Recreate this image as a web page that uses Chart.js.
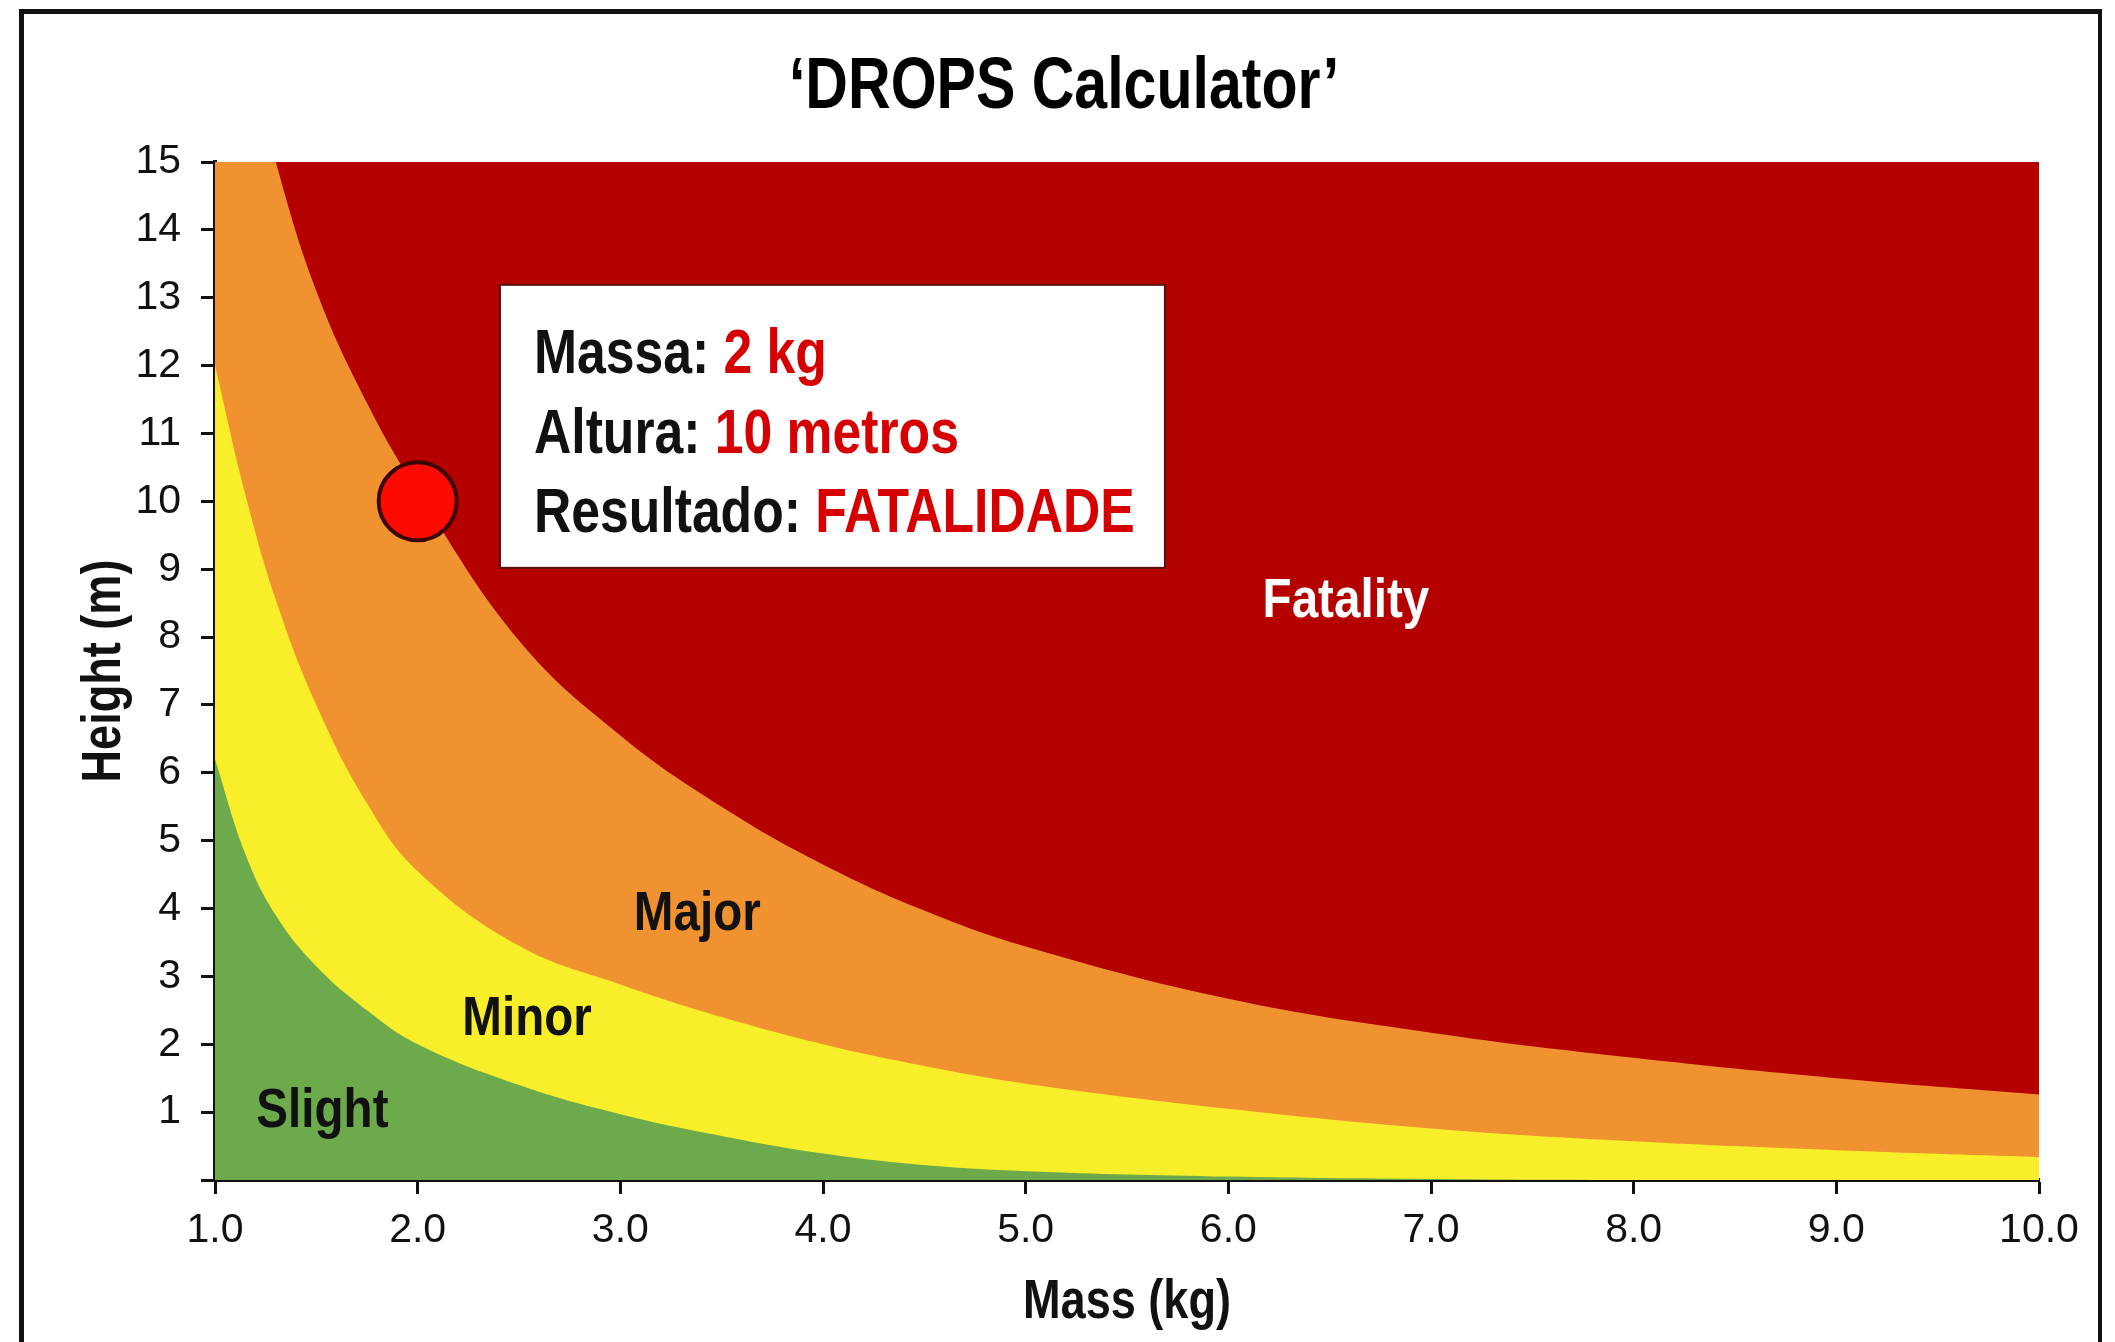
<!DOCTYPE html>
<html>
<head>
<meta charset="utf-8">
<title>DROPS Calculator</title>
<script src="https://cdn.jsdelivr.net/npm/chart.js@4.4.1/dist/chart.umd.min.js"></script>
<style>
  html, body { margin: 0; padding: 0; background: #fff; }
  #wrap { position: relative; width: 2115px; height: 1342px; overflow: hidden; }
  #frame { position: absolute; left: 19px; top: 9px; width: 2074px; height: 1400px;
           border: 4px solid #111; border-top-width: 5px; border-left-width: 5px; }
  #dropsChart { position: absolute; left: 0; top: 0; }
</style>
</head>
<body>
<div id="wrap">
  <div id="frame"></div>
  <canvas id="dropsChart" width="2115" height="1342"></canvas>
</div>
<script>
// mass (kg) at which the limit curves were read
var massKg = [1, 1.15, 1.3, 1.5, 1.75, 2, 2.5, 3, 3.5, 4, 4.5, 5, 6, 7, 8, 9, 10];
// height (m) of each limit: above it the next, worse zone starts
// (first fatality values sit above the top of the plot)
var fatalityLimit = [18.5, 16.8, 15.0, 13.1, 11.45, 10.15, 7.95, 6.55, 5.5, 4.65, 3.97, 3.44, 2.67, 2.17, 1.80, 1.50, 1.26];
var majorLimit = [12.0, 10.1, 8.55, 7.0, 5.55, 4.55, 3.45, 2.88, 2.4, 2.0, 1.68, 1.42, 1.05, 0.76, 0.57, 0.44, 0.34];
var minorLimit = [6.2, 4.8, 3.9, 3.15, 2.5, 2.0, 1.4, 0.97, 0.65, 0.39, 0.22, 0.13, 0.05, 0.015, 0, 0, 0];

var zoneNames = ['Fatality', 'Major', 'Minor', 'Slight'];
var xTickLabels = ['1.0', '2.0', '3.0', '4.0', '5.0', '6.0', '7.0', '8.0', '9.0', '10.0'];
var yTickLabels = ['', '1', '2', '3', '4', '5', '6', '7', '8', '9', '10', '11', '12', '13', '14', '15'];

// the dropped object
var dropMass = [2];
var dropHeight = [10];
var resultLabels = ['Massa:', 'Altura:', 'Resultado:'];
var resultValues = ['2 kg', '10 metros', 'FATALIDADE'];

var chartTitle = '\u2018DROPS Calculator\u2019';
var xTitle = 'Mass (kg)';
var yTitle = 'Height (m)';

var SANS = '"Liberation Sans", Arial, Helvetica, sans-serif';
var RED = '#B40100', ORANGE = '#F0922F', YELLOW = '#F8EE2A', GREEN = '#6CAA4B';

function points(xs, ys) {
    return xs.map(function (x, i) { return { x: x, y: ys[i] }; });
}

// bold text squeezed sideways, to look like a condensed face
function condensed(ctx, text, x, y, size, color, align, squeeze, rotate) {
    ctx.save();
    ctx.translate(x, y);
    if (rotate) ctx.rotate(rotate);
    ctx.scale(squeeze, 1);
    ctx.font = 'bold ' + size + 'px ' + SANS;
    ctx.fillStyle = color;
    ctx.textAlign = align;
    ctx.textBaseline = 'alphabetic';
    ctx.fillText(text, 0, 0);
    var w = ctx.measureText(text).width * squeeze;
    ctx.restore();
    return w;
}

// red background of the plot = Fatality zone
var fatalityBackground = {
    id: 'fatalityBackground',
    beforeDatasetsDraw: function (chart) {
        var a = chart.chartArea, ctx = chart.ctx;
        ctx.save();
        ctx.fillStyle = RED;
        ctx.fillRect(a.left, a.top, a.right - a.left, a.bottom - a.top);
        ctx.restore();
    }
};

// zone names and the result box
var annotations = {
    id: 'annotations',
    afterDatasetsDraw: function (chart) {
        var ctx = chart.ctx, sx = chart.scales.x, sy = chart.scales.y;

        // zone labels (centre x, baseline y in data units)
        var spots = [[6.58, 8.3, '#fff'], [3.38, 3.68, '#111'], [2.54, 2.14, '#111'], [1.53, 0.78, '#111']];
        zoneNames.forEach(function (name, i) {
            condensed(ctx, name, sx.getPixelForValue(spots[i][0]), sy.getPixelForValue(spots[i][1]),
                56, spots[i][2], 'center', 0.85);
        });

        // result box
        var left = sx.getPixelForValue(2.406), right = sx.getPixelForValue(5.687);
        var top = sy.getPixelForValue(13.19), bottom = sy.getPixelForValue(9.02);
        ctx.save();
        ctx.fillStyle = '#fff';
        ctx.fillRect(left, top, right - left, bottom - top);
        ctx.strokeStyle = '#5a1010';
        ctx.lineWidth = 2;
        ctx.strokeRect(left, top, right - left, bottom - top);
        ctx.restore();

        var textX = sx.getPixelForValue(2.574);
        var baselines = [11.89, 10.71, 9.55];
        resultLabels.forEach(function (lab, i) {
            var by = sy.getPixelForValue(baselines[i]);
            var w = condensed(ctx, lab + ' ', textX, by, 63, '#111', 'left', 0.82);
            condensed(ctx, resultValues[i], textX + w, by, 63, '#D60000', 'left', 0.82);
        });
    },
    afterDraw: function (chart) {
        var ctx = chart.ctx, a = chart.chartArea;
        condensed(ctx, chartTitle, 1064, 108, 72, '#000', 'center', 0.82);
        condensed(ctx, xTitle, (a.left + a.right) / 2, 1318, 55, '#111', 'center', 0.82);
        condensed(ctx, yTitle, 120, (a.top + a.bottom) / 2, 55, '#111', 'center', 0.82, -Math.PI / 2);
    }
};

var zoneStyle = { borderWidth: 0, pointRadius: 0, tension: 0.4, fill: 'origin' };

var ctx = document.getElementById('dropsChart').getContext('2d');
var chart = new Chart(ctx, {
    type: 'line',
    data: {
        datasets: [
            Object.assign({ label: zoneNames[1], data: points(massKg, fatalityLimit), backgroundColor: ORANGE, order: 3 }, zoneStyle),
            Object.assign({ label: zoneNames[2], data: points(massKg, majorLimit), backgroundColor: YELLOW, order: 2 }, zoneStyle),
            Object.assign({ label: zoneNames[3], data: points(massKg, minorLimit), backgroundColor: GREEN, order: 1 }, zoneStyle),
            {
                label: 'Drop',
                data: points(dropMass, dropHeight),
                showLine: false,
                pointRadius: 39,
                pointBackgroundColor: '#FF0A00',
                pointBorderColor: '#3c0505',
                pointBorderWidth: 4,
                order: 0
            }
        ]
    },
    options: {
        responsive: false,
        animation: false,
        devicePixelRatio: 1,
        layout: { padding: { left: 0, right: 76, top: 162, bottom: 0 } },
        plugins: {
            legend: { display: false },
            tooltip: { enabled: false },
            title: { display: false }
        },
        scales: {
            x: {
                type: 'linear',
                min: 1,
                max: 10,
                afterFit: function (scale) { scale.height = 162; },
                ticks: {
                    stepSize: 1,
                    padding: 12,
                    color: '#111',
                    font: { family: SANS, size: 41 },
                    callback: function (value, index) { return xTickLabels[index]; }
                },
                grid: { drawOnChartArea: false, drawTicks: true, tickLength: 14, tickColor: '#111', tickWidth: 3 },
                border: { display: true, color: '#111', width: 4 }
            },
            y: {
                type: 'linear',
                min: 0,
                max: 15,
                afterFit: function (scale) { scale.width = 215; },
                ticks: {
                    stepSize: 1,
                    padding: 20,
                    color: '#111',
                    font: { family: SANS, size: 41 },
                    callback: function (value, index) { return yTickLabels[index]; }
                },
                grid: { drawOnChartArea: false, drawTicks: true, tickLength: 14, tickColor: '#111', tickWidth: 3 },
                border: { display: true, color: '#111', width: 4 }
            }
        }
    },
    plugins: [fatalityBackground, annotations]
});
</script>
</body>
</html>
